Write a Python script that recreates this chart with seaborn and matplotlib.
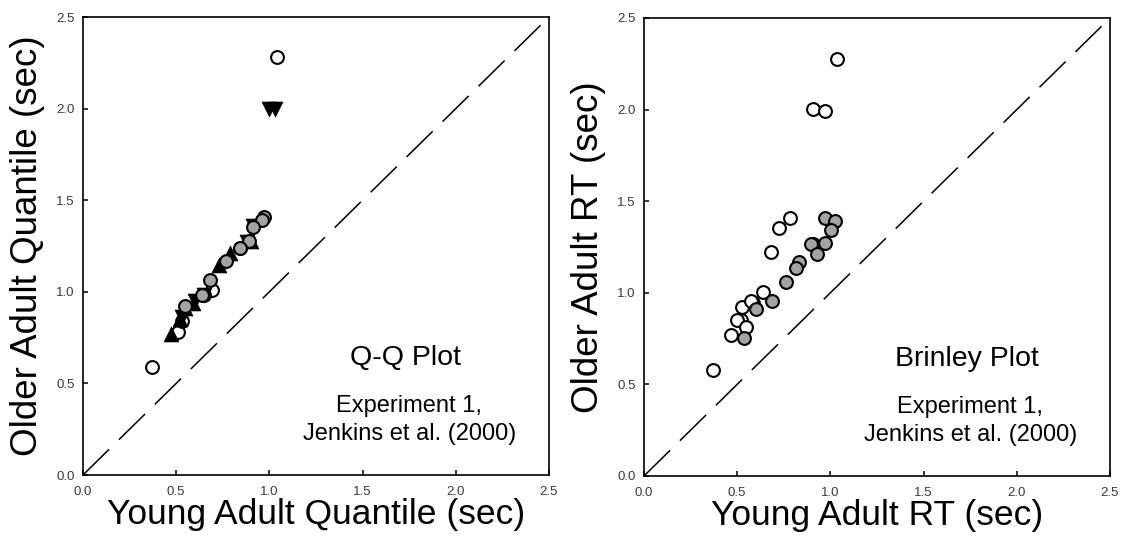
import pandas as pd
import matplotlib
matplotlib.use("Agg")
import matplotlib.pyplot as plt
import seaborn as sns

# Q-Q plot (young quantile, older quantile)
qq_open_x = [0.37, 1.04, 0.69, 0.51, 0.53, 0.65, 0.84]
qq_open_y = [0.59, 2.28, 1.01, 0.78, 0.84, 0.98, 1.24]
qq_gray_x = [0.97, 0.96, 0.77, 0.68, 0.91, 0.64, 0.55, 0.89, 0.84]
qq_gray_y = [1.41, 1.39, 1.17, 1.065, 1.355, 0.98, 0.92, 1.28, 1.24]
qq_up_x = [0.47, 0.73, 0.79, 0.55, 0.59, 0.90, 0.52]
qq_up_y = [0.77, 1.145, 1.21, 0.91, 0.94, 1.28, 0.85]
qq_down_x = [1.00, 1.03, 0.60, 0.65, 0.91, 0.88, 0.53]
qq_down_y = [2.00, 2.00, 0.95, 0.98, 1.36, 1.27, 0.86]

# Brinley plot (young RT, older RT)
br_open_x = [1.034, 0.908, 0.969, 0.785, 0.723, 0.679, 0.636, 0.587, 0.525,
             0.519, 0.50, 0.549, 0.465, 0.368, 0.572, 0.908]
br_open_y = [2.274, 2.002, 1.991, 1.41, 1.353, 1.221, 1.004, 0.944, 0.923,
             0.853, 0.85, 0.815, 0.768, 0.579, 0.957, 1.268]
br_gray_x = [0.972, 1.024, 1.004, 0.969, 0.894, 0.927, 0.834, 0.814, 0.762,
             0.688, 0.603, 0.539]
br_gray_y = [1.41, 1.391, 1.343, 1.272, 1.266, 1.212, 1.168, 1.136, 1.057,
             0.957, 0.913, 0.753]

identity = [0.0, 2.5]
ticks = [0.0, 0.5, 1.0, 1.5, 2.0, 2.5]
tick_labels = ["0.0", "0.5", "1.0", "1.5", "2.0", "2.5"]

sns.set_style("white")
plt.rcParams["font.family"] = ["Liberation Sans", "DejaVu Sans"]
plt.rcParams["text.color"] = "black"
plt.rcParams["axes.labelcolor"] = "black"

fig = plt.figure(figsize=(11.27, 5.42), dpi=100)
ax1 = fig.add_axes([0.0736, 0.1236, 0.4135, 0.845])
ax2 = fig.add_axes([0.5714, 0.1218, 0.4135, 0.845])

gray = "#a4a4a4"
circ = dict(s=85, linewidth=1.5, edgecolor="black")
tri = dict(s=115, linewidth=0.5, edgecolor="black", color="black")


def diag(ax):
    sns.lineplot(x=identity, y=identity, ax=ax, color="black", linewidth=1.1)
    ax.lines[-1].set_dashes((24, 9))


def style(ax, xlabel, ylabel):
    ax.set_xlim(0, 2.5)
    ax.set_ylim(0, 2.5)
    ax.set_xticks(ticks)
    ax.set_yticks(ticks)
    ax.set_xticklabels(tick_labels)
    ax.set_yticklabels(tick_labels)
    ax.tick_params(direction="in", length=3.5, width=1.1, labelsize=9.5,
                   labelcolor="#3a3a3a", color="black", left=True, bottom=True)
    ax.tick_params(axis="x", pad=8)
    ax.tick_params(axis="y", pad=6)
    for sp in ax.spines.values():
        sp.set_linewidth(1.2)
        sp.set_color("black")
    ax.set_xlabel(xlabel, fontsize=25.5, color="black")
    ax.set_ylabel(ylabel, fontsize=26.5, color="black")
    ax.xaxis.set_label_coords(0.5, -0.05)
    ax.yaxis.set_label_coords(-0.082, 0.5)


# left panel
diag(ax1)
sns.scatterplot(x=qq_open_x, y=qq_open_y, ax=ax1, marker="o", color="white", **circ)
sns.scatterplot(x=qq_up_x, y=qq_up_y, ax=ax1, marker="^", **tri)
sns.scatterplot(x=qq_down_x, y=qq_down_y, ax=ax1, marker="v", **tri)
sns.scatterplot(x=qq_gray_x, y=qq_gray_y, ax=ax1, marker="o", color=gray, **circ)
style(ax1, "Young Adult Quantile (sec)", "Older Adult Quantile (sec)")
ax1.text(1.73, 0.64, "Q-Q Plot", fontsize=20.5, ha="center", va="center")
ax1.text(1.75, 0.375, "Experiment 1,", fontsize=17, ha="center", va="center")
ax1.text(1.75, 0.225, "Jenkins et al. (2000)", fontsize=17, ha="center", va="center")

# right panel
diag(ax2)
sns.scatterplot(x=br_open_x, y=br_open_y, ax=ax2, marker="o", color="white", **circ)
sns.scatterplot(x=br_gray_x, y=br_gray_y, ax=ax2, marker="o", color=gray, **circ)
style(ax2, "Young Adult RT (sec)", "Older Adult RT (sec)")
ax2.text(1.73, 0.64, "Brinley Plot", fontsize=20.5, ha="center", va="center")
ax2.text(1.75, 0.375, "Experiment 1,", fontsize=17, ha="center", va="center")
ax2.text(1.75, 0.225, "Jenkins et al. (2000)", fontsize=17, ha="center", va="center")

fig.savefig("out.png", dpi=100)
